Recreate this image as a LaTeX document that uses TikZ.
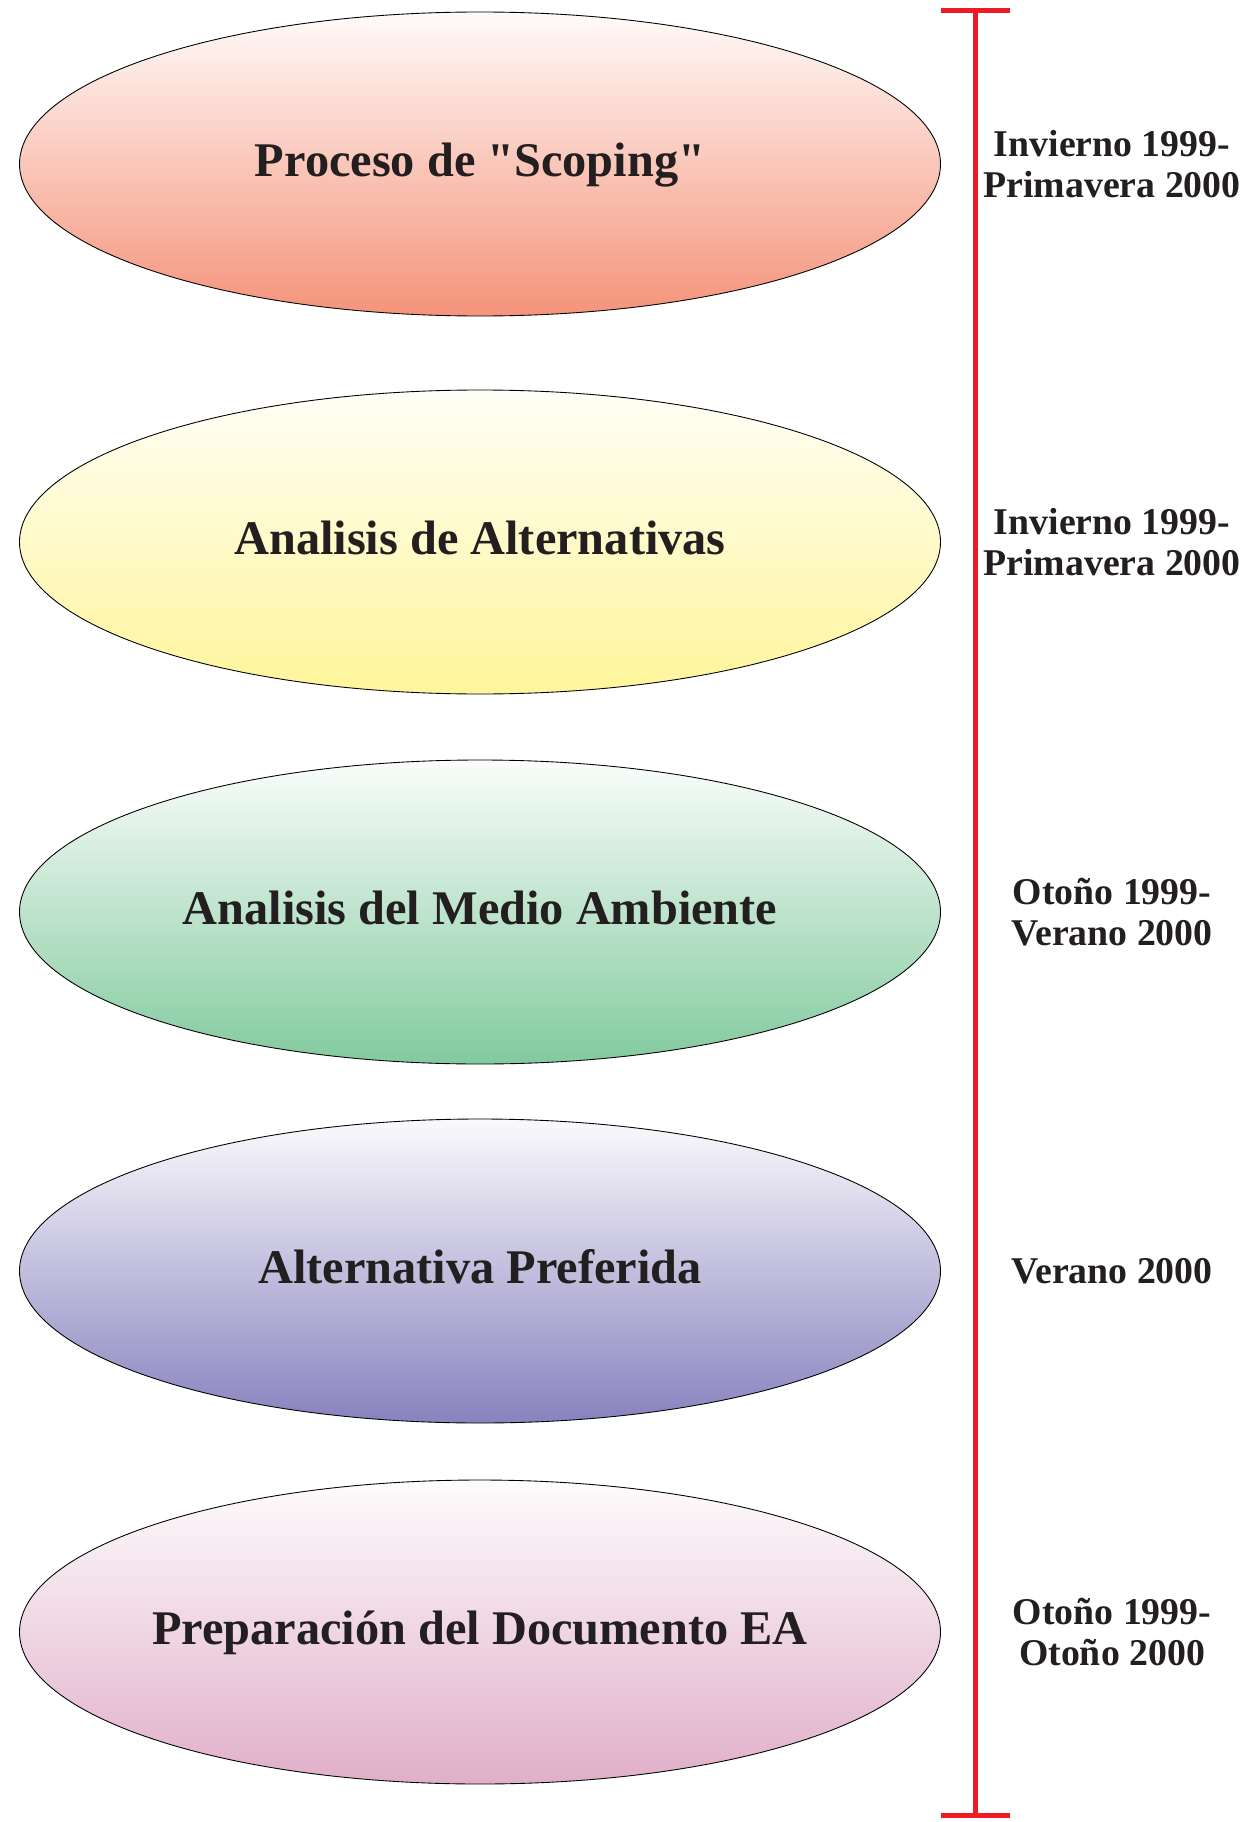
\documentclass[tikz,border=0pt]{standalone}
\usepackage{fontspec}
\setmainfont{Liberation Serif}[Ligatures=TeXOff]
\usetikzlibrary{shapes.geometric}
\definecolor{txt}{HTML}{231F20}
\definecolor{barred}{HTML}{ED1C24}
\definecolor{salmon}{HTML}{F5937A}
\definecolor{lemon}{HTML}{FFF59A}
\definecolor{mint}{HTML}{82CA9E}
\definecolor{lilac}{HTML}{8882BE}
\definecolor{rose}{HTML}{E0AFC8}
\begin{document}
\begin{tikzpicture}
\tikzset{fase/.style={ellipse, draw=black, line width=0.5pt, minimum width=18.42cm,
    minimum height=6.08cm, inner sep=0pt, inner xsep=-1cm, text height=20.9pt, text depth=6.6pt,
    text=txt, font=\fontsize{27.5}{30}\selectfont\bfseries},
  fecha/.style={align=center, text=txt, font=\fontsize{21.5}{23.4}\selectfont\bfseries}}
\useasboundingbox (0,0) rectangle (24.88,-36.44);

\node[fase, top color=salmon!4, bottom color=salmon] (scoping) at (9.6,-3.28)
    {Proceso de "Scoping"};
\node[fase, top color=lemon!8, bottom color=lemon] (altern) at (9.6,-10.84)
    {Analisis de Alternativas};
\node[fase, top color=mint!4, bottom color=mint] (medio) at (9.6,-18.24)
    {Analisis del Medio Ambiente};
\node[fase, top color=lilac!4, bottom color=lilac] (prefer) at (9.6,-25.42)
    {Alternativa Preferida};
\node[fase, top color=rose!4, bottom color=rose] (docum) at (9.6,-32.64)
    {Preparación del Documento EA};

% fechas
\node[fecha] (f1) at (22.24,-3.28) {Invierno 1999-\\Primavera 2000};
\node[fecha] (f2) at (22.24,-10.84) {Invierno 1999-\\Primavera 2000};
\node[fecha] (f3) at (22.24,-18.24) {Otoño 1999-\\Verano 2000};
\node[fecha] (f4) at (22.24,-25.42) {Verano 2000};
\node[fecha] (f5) at (22.24,-32.64) {Otoño 1999-\\Otoño 2000};

% barra de tiempo
\coordinate (ini) at (19.5,-0.22);
\coordinate (fin) at (19.5,-36.3);
\draw[barred, line width=0.1cm] (ini) -- (fin);
\draw[barred, line width=0.1cm] ([xshift=-0.68cm]ini) -- ([xshift=0.7cm]ini);
\draw[barred, line width=0.1cm] ([xshift=-0.68cm]fin) -- ([xshift=0.7cm]fin);
\end{tikzpicture}
\end{document}
